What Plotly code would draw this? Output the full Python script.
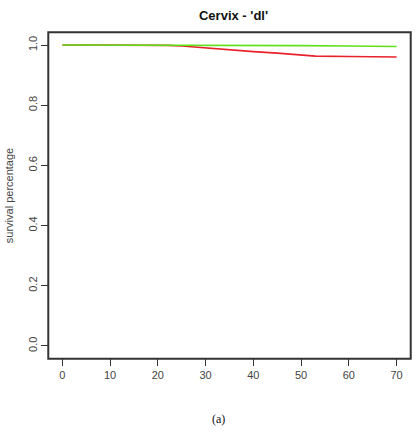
import plotly.graph_objects as go

# survival curves, Cervix 'dl'
red_x = [0, 10, 20, 22, 25, 30, 35, 40, 45, 50, 53, 60, 70]
red_y = [1.0, 1.0, 1.0, 0.999, 0.997, 0.99, 0.984, 0.978, 0.973, 0.966, 0.963, 0.962, 0.96]
green_x = [0, 10, 20, 30, 40, 50, 60, 70]
green_y = [1.0, 1.0, 1.0, 1.0, 0.999, 0.998, 0.997, 0.995]

x_ticks = [0, 10, 20, 30, 40, 50, 60, 70]
y_ticks = [0.0, 0.2, 0.4, 0.6, 0.8, 1.0]

fig = go.Figure()
fig.add_trace(go.Scatter(x=red_x, y=red_y, mode="lines",
                         line=dict(color="#e8212b", width=1.6), showlegend=False))
fig.add_trace(go.Scatter(x=green_x, y=green_y, mode="lines",
                         line=dict(color="#5fe01a", width=1.6), showlegend=False))

axis_style = dict(showline=True, linecolor="#333", linewidth=1, mirror=True,
                  ticks="outside", ticklen=7, tickcolor="#333", showgrid=False,
                  zeroline=False, automargin=False,
                  tickfont=dict(family="Liberation Sans", size=11, color="#444"))

fig.update_xaxes(range=[-2.8, 72.8], tickvals=x_ticks,
                 ticktext=[str(v) for v in x_ticks], **axis_style)
fig.update_yaxes(range=[-0.04, 1.04], tickvals=y_ticks,
                 ticktext=["%.1f" % v for v in y_ticks], tickangle=-90,
                 title=dict(text="survival percentage", standoff=10,
                            font=dict(family="Liberation Sans", size=11, color="#444")),
                 **axis_style)

fig.update_layout(
    template="none",
    width=417, height=440,
    margin=dict(l=49, r=7, t=33, b=82),
    plot_bgcolor="white", paper_bgcolor="white",
    title=dict(text="<b>Cervix - 'dl'</b>", x=0.56, xanchor="center", y=0.975,
               font=dict(family="Liberation Sans", size=13, color="#111")),
    annotations=[dict(text="(a)", xref="paper", yref="paper", x=0.47, y=-0.215,
                      showarrow=False,
                      font=dict(family="Liberation Serif", size=12, color="#111"))],
    # plot frame drawn as a shape
    shapes=[dict(type="rect", xref="paper", yref="paper", x0=-0.002, x1=1.002,
                 y0=-0.002, y1=1.002, line=dict(color="#333", width=2),
                 fillcolor="rgba(0,0,0,0)", layer="above")],
)

# drop the default page margin so the figure sits at the top-left corner
fig.write_html("out.html", config={"displayModeBar": False},
               post_script="document.body.style.margin='0';")
